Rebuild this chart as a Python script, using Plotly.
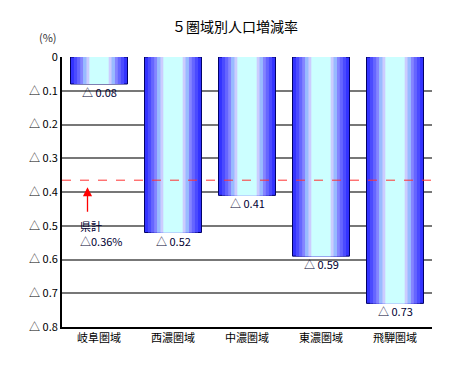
import plotly.graph_objects as go

categories = ["岐阜圏域", "西濃圏域", "中濃圏域", "東濃圏域", "飛騨圏域"]
values = [0.08, 0.52, 0.41, 0.59, 0.73]
value_labels = ["△ 0.08", "△ 0.52", "△ 0.41", "△ 0.59", "△ 0.73"]
pref_total = 0.365
pref_label_lines = ["県計", "△0.36%"]
tick_vals = [0, 0.1, 0.2, 0.3, 0.4, 0.5, 0.6, 0.7, 0.8]
tick_text = ["0", "△ 0.1", "△ 0.2", "△ 0.3", "△ 0.4", "△ 0.5", "△ 0.6", "△ 0.7", "△ 0.8"]

FONT = "Noto Sans CJK JP"
bar_w = 0.77
stripes = [
    (1.00, "#3333FF"),
    (0.88, "#4B4BFF"),
    (0.77, "#6666FF"),
    (0.66, "#8585FF"),
    (0.56, "#99BBFF"),
    (0.44, "#CCCCFF"),
    (0.34, "#CCFFFF"),
]

fig = go.Figure()
for i, (frac, col) in enumerate(stripes):
    fig.add_trace(go.Bar(
        x=categories, y=values,
        width=[bar_w * frac] * len(values),
        marker=dict(color=col,
                    line=dict(color="#000066" if i == 0 else col, width=1 if i == 0 else 0)),
        hoverinfo="skip",
        showlegend=False,
    ))

for c, v, t in zip(categories, values, value_labels):
    fig.add_annotation(x=c, y=v, xref="x", yref="y", text=t, showarrow=False,
                       yanchor="top", yshift=2,
                       font=dict(family=FONT, size=11, color="#000033"))

fig.add_shape(type="line", xref="paper", yref="y", x0=0, x1=1.02,
              y0=pref_total, y1=pref_total,
              line=dict(color="#FF3333", width=1, dash="dash"))

fig.add_annotation(x=categories[0], y=pref_total, xref="x", yref="y",
                   ax=0, ay=26, axref="pixel", ayref="pixel",
                   showarrow=True, arrowhead=2, arrowsize=1.4, arrowwidth=1.3,
                   arrowcolor="#FF0000", text="", xshift=-11.5, yshift=-7)
for k, line in enumerate(pref_label_lines):
    fig.add_annotation(x=categories[0], y=pref_total, xref="x", yref="y",
                       text=line, showarrow=False, align="left",
                       xanchor="left", yanchor="middle", xshift=-20,
                       yshift=-46 - 15 * k, borderpad=0,
                       font=dict(family=FONT, size=11, color="#000033"))

fig.add_annotation(text="５圏域別人口増減率", xref="paper", yref="paper",
                   x=0.468, y=1.0, yshift=31, xanchor="center", yanchor="middle",
                   showarrow=False, font=dict(family=FONT, size=14, color="#000000"))
fig.add_annotation(text="(%)", xref="paper", yref="paper",
                   x=0, y=1, xshift=-14, yshift=20, xanchor="center", yanchor="middle",
                   showarrow=False, font=dict(family=FONT, size=11, color="#333333"))

fig.update_layout(
    width=458, height=378,
    margin=dict(l=54, r=34, t=49, b=59),
    paper_bgcolor="white", plot_bgcolor="white",
    barmode="overlay",
    font=dict(family=FONT, size=11, color="#000000"),
)
fig.update_xaxes(showline=True, linecolor="#000000", linewidth=2, mirror=False,
                 ticks="", tickfont=dict(family=FONT, size=11, color="#000000"),
                 showgrid=False)
fig.update_yaxes(range=[0.8, 0], tickvals=tick_vals, ticktext=tick_text,
                 showline=True, linecolor="#000000", linewidth=2,
                 showgrid=True, gridcolor="#777777", gridwidth=2,
                 zeroline=False, ticks="", ticklen=0,
                 tickfont=dict(family=FONT, size=11, color="#000000"))

fig.write_html("out.html")
